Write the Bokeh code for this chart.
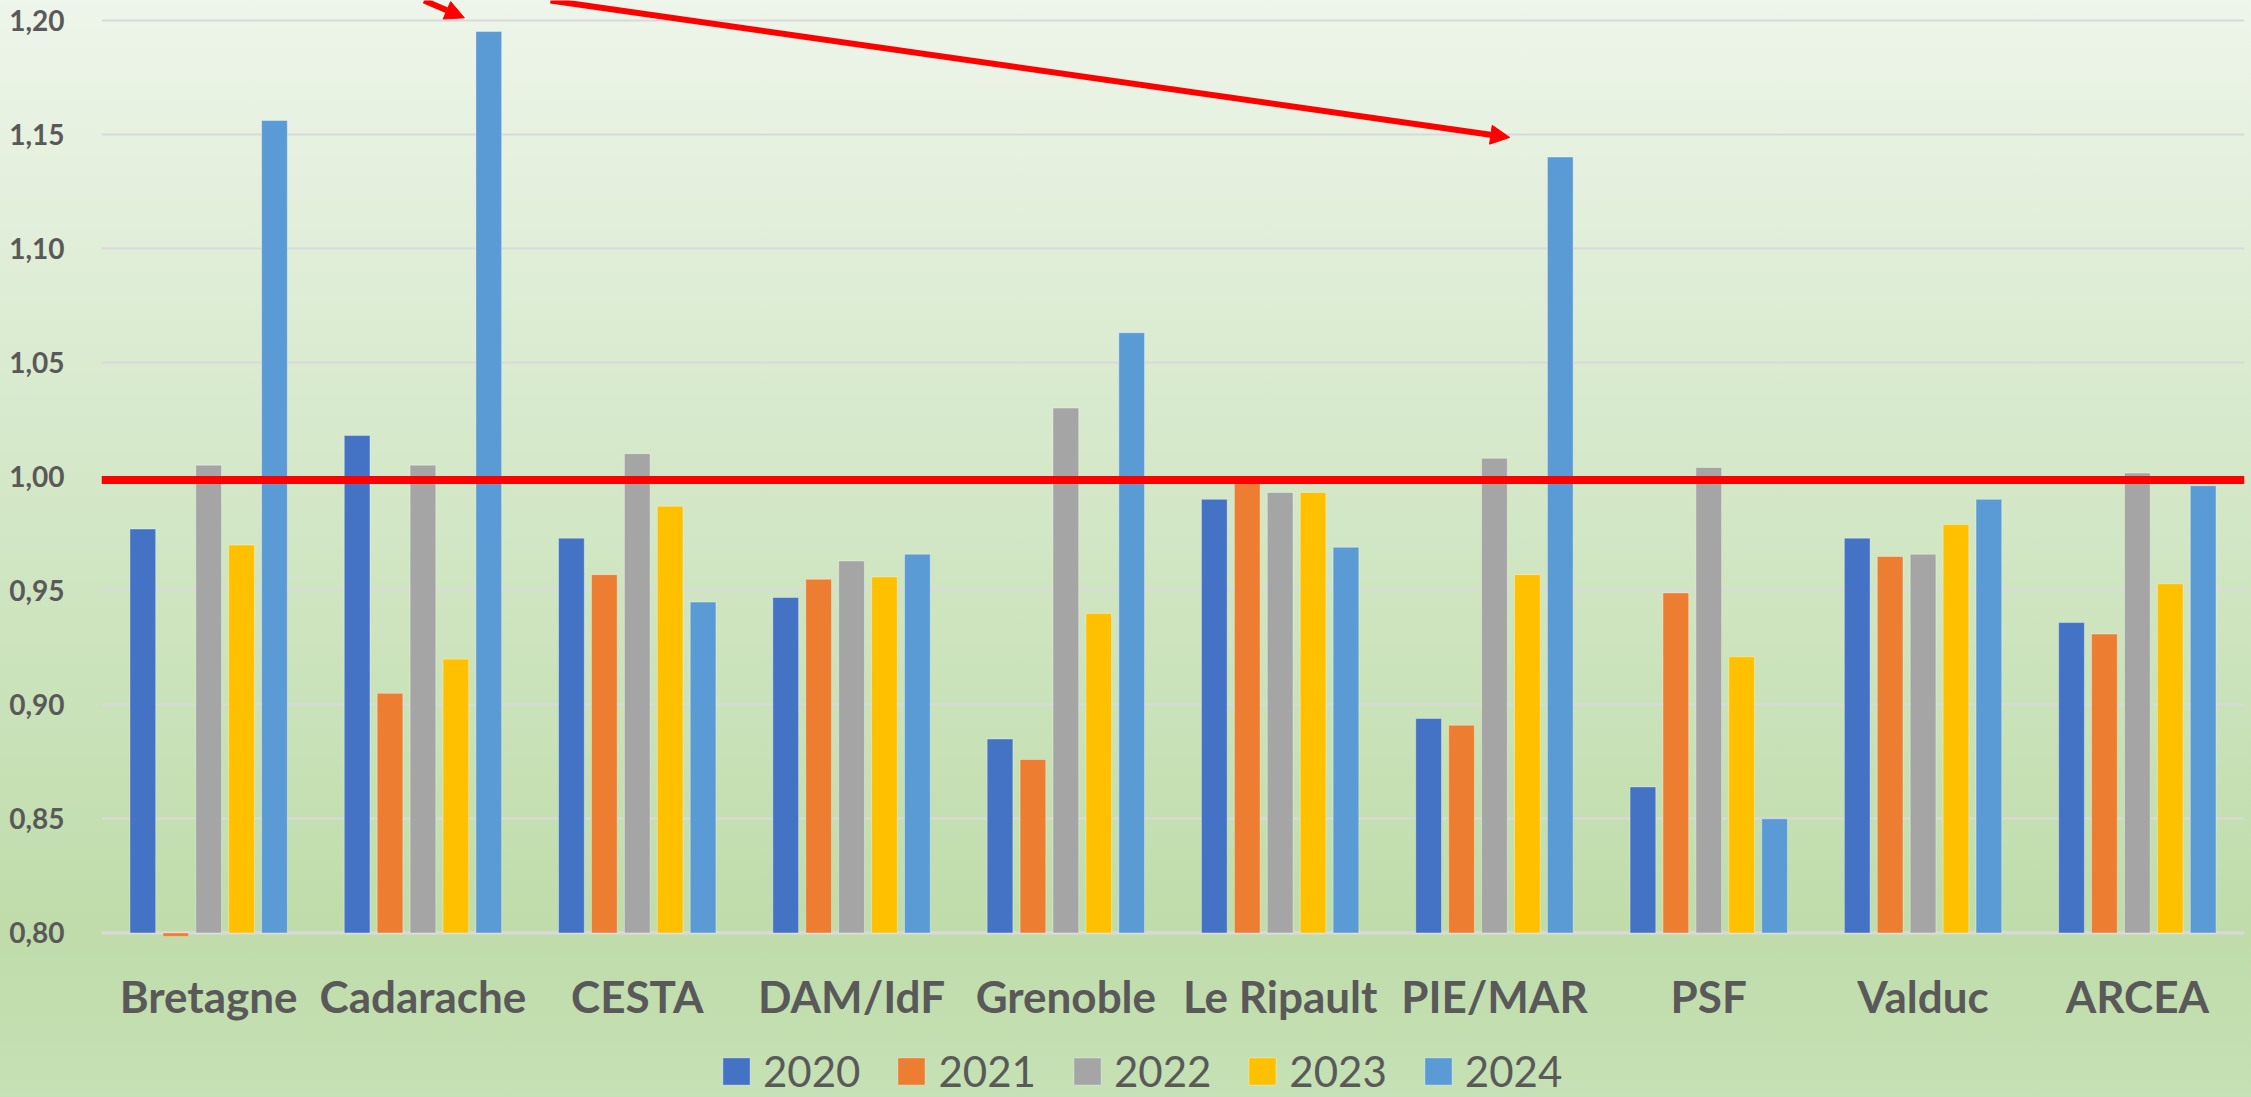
from bokeh.plotting import figure
from bokeh.models import (FactorRange, Range1d, ColumnDataSource, Legend, LegendItem,
                          Span, Arrow, NormalHead, FixedTicker)
from bokeh.transform import dodge
from bokeh.embed import file_html
from bokeh.resources import INLINE

# ---------------- data ----------------
sites = ["Bretagne", "Cadarache", "CESTA", "DAM/IdF", "Grenoble",
         "Le Ripault", "PIE/MAR", "PSF", "Valduc", "ARCEA"]
years = ["2020", "2021", "2022", "2023", "2024"]
v2020 = [0.977, 1.018, 0.973, 0.947, 0.885, 0.990, 0.894, 0.864, 0.973, 0.936]
v2021 = [0.7985, 0.905, 0.957, 0.955, 0.876, 0.997, 0.891, 0.949, 0.965, 0.931]
v2022 = [1.005, 1.005, 1.010, 0.963, 1.030, 0.993, 1.008, 1.004, 0.966, 1.0015]
v2023 = [0.970, 0.920, 0.987, 0.956, 0.940, 0.993, 0.957, 0.921, 0.979, 0.953]
v2024 = [1.156, 1.195, 0.945, 0.966, 1.063, 0.969, 1.140, 0.850, 0.990, 0.996]
y_ticks = [0.80, 0.85, 0.90, 0.95, 1.00, 1.05, 1.10, 1.15, 1.20]
y_tick_labels = ["0,80", "0,85", "0,90", "0,95", "1,00", "1,05", "1,10", "1,15", "1,20"]
baseline = 0.80
reference_level = 0.9985
# pointer arrows: (target site index, target year index)
arrow_targets = [(1, 4), (6, 4)]

colors = ["#4472C4", "#ED7D31", "#A5A5A5", "#FFC000", "#5B9BD5"]
TEXT = "#595959"
FONT = "Lato"

series = [v2020, v2021, v2022, v2023, v2024]
src = ColumnDataSource(dict(site=sites, **{y: s for y, s in zip(years, series)}))

p = figure(x_range=FactorRange(*sites), y_range=Range1d(0.7279, 1.2086),
           width=2251, height=1097, output_backend="svg", toolbar_location=None,
           min_border_left=101, min_border_right=7, min_border_top=0, min_border_bottom=0)
p.background_fill_color = None
p.border_fill_color = None
p.outline_line_color = None
p.styles = {"background-image":
            "linear-gradient(180deg, #EEF5EA 0%, #D6E9CB 40%, #BFDCAA 85%, #C6E1B5 100%)"}

pitch = 0.1536
bar_w = 0.12
items = []
for i, (yr, col) in enumerate(zip(years, colors)):
    off = (i - 2) * pitch
    r = p.vbar(x=dodge("site", off, range=p.x_range), top=yr, bottom=baseline,
               width=bar_w, source=src, fill_color=col,
               line_color="white", line_alpha=0.35, line_width=1)
    items.append(LegendItem(label=yr, renderers=[r]))

# grid
p.xgrid.grid_line_color = None
p.ygrid.ticker = FixedTicker(ticks=y_ticks)
p.ygrid.grid_line_color = "#D9D9D9"
p.ygrid.grid_line_width = 2
p.ygrid.level = "underlay"
p.add_layout(Span(location=baseline, dimension="width", line_color="#D9D9D9",
                  line_width=3, level="underlay"))

# axes
p.yaxis.ticker = FixedTicker(ticks=y_ticks)
p.yaxis.major_label_overrides = {t: l for t, l in zip(y_ticks, y_tick_labels)}
p.xaxis.fixed_location = baseline
for ax in (p.xaxis[0], p.yaxis[0]):
    ax.axis_line_color = None
    ax.major_tick_line_color = None
    ax.minor_tick_line_color = None
    ax.major_label_text_color = TEXT
    ax.major_label_text_font = FONT
    ax.major_label_text_font_style = "bold"
p.yaxis.major_label_text_font_size = "28px"
p.yaxis.major_label_standoff = 31
p.xaxis.major_label_text_font_size = "44px"
p.xaxis.major_label_standoff = 31

# reference line
p.add_layout(Span(location=reference_level, dimension="width", line_color="#FF0000",
                  line_width=8))

# arrows pointing at the highest bars
starts = [(1.505, 1.2086), (2.095, 1.2086)]
tip_dx = [-0.114, -0.236]
tip_dy = [0.006, 0.0086]
for (si, yi), (xs, ys), dx, dy in zip(arrow_targets, starts, tip_dx, tip_dy):
    xe = si + 0.5 + (yi - 2) * pitch + dx
    ye = series[yi][si] + dy
    p.add_layout(Arrow(end=NormalHead(size=19, fill_color="#FF0000", line_color="#FF0000"),
                       x_start=xs, y_start=ys, x_end=xe, y_end=ye,
                       line_color="#FF0000", line_width=6))

legend = Legend(items=items, orientation="horizontal", location=(618, 1),
                glyph_width=34, glyph_height=34, label_standoff=10, spacing=34,
                padding=0, margin=0, border_line_color=None, background_fill_alpha=0,
                label_text_font=FONT, label_text_font_size="42px", label_text_color=TEXT)
p.add_layout(legend, "center")

open("out.html", "w").write(file_html(p, INLINE))
